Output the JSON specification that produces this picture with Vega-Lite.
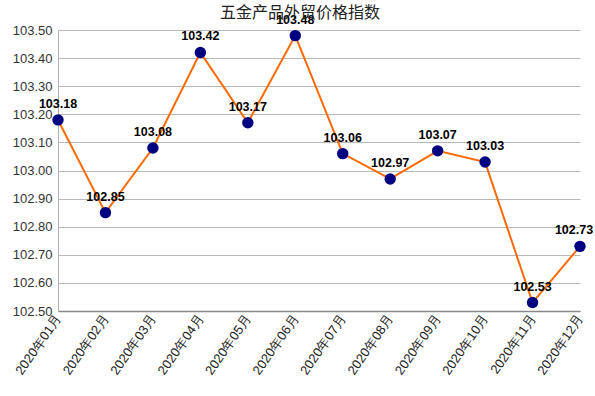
{
  "$schema": "https://vega.github.io/schema/vega-lite/v6.json",
  "width": 522,
  "height": 281,
  "autosize": {"type": "none"},
  "padding": {"left": 58, "top": 30, "right": 15, "bottom": 85},
  "background": "white",
  "title": {
    "text": "五金产品外贸价格指数",
    "font": "Noto Sans CJK SC",
    "fontSize": 16,
    "fontWeight": "normal",
    "color": "#222222",
    "anchor": "middle",
    "dx": -19,
    "offset": -7
  },
  "data": {
    "values": [
      {"month": "2020年01月", "value": 103.18},
      {"month": "2020年02月", "value": 102.85},
      {"month": "2020年03月", "value": 103.08},
      {"month": "2020年04月", "value": 103.42},
      {"month": "2020年05月", "value": 103.17},
      {"month": "2020年06月", "value": 103.48},
      {"month": "2020年07月", "value": 103.06},
      {"month": "2020年08月", "value": 102.97},
      {"month": "2020年09月", "value": 103.07},
      {"month": "2020年10月", "value": 103.03},
      {"month": "2020年11月", "value": 102.53},
      {"month": "2020年12月", "value": 102.73}
    ]
  },
  "encoding": {
    "x": {
      "field": "month",
      "type": "ordinal",
      "sort": null,
      "scale": {"type": "point", "padding": 0},
      "axis": {
        "title": null,
        "labelAngle": -55,
        "labelFont": "Liberation Sans",
        "labelFontSize": 13,
        "labelColor": "#222222",
        "labelPadding": 5,
        "ticks": false,
        "domainColor": "#888888",
        "domainWidth": 1.5,
        "grid": false
      }
    },
    "y": {
      "field": "value",
      "type": "quantitative",
      "scale": {"domain": [102.5, 103.5], "zero": false, "nice": false},
      "axis": {
        "title": null,
        "values": [102.5, 102.6, 102.7, 102.8, 102.9, 103.0, 103.1, 103.2, 103.3, 103.4, 103.5],
        "format": ".2f",
        "labelFont": "Liberation Sans",
        "labelFontSize": 13,
        "labelColor": "#333333",
        "labelPadding": 6,
        "ticks": false,
        "domainColor": "#b0b0b0",
        "gridColor": "#b8b8b8",
        "gridWidth": 1
      }
    }
  },
  "layer": [
    {"mark": {"type": "line", "color": "#FF6A00", "strokeWidth": 2}},
    {"mark": {"type": "point", "filled": true, "color": "#000080", "size": 130, "opacity": 1}},
    {
      "transform": [{"filter": "datum.month != '2020年12月'"}],
      "mark": {"type": "text", "dy": -16, "font": "Liberation Sans", "fontSize": 12.5, "fontWeight": "bold", "color": "#000000"},
      "encoding": {"text": {"field": "value", "type": "quantitative", "format": ".2f"}}
    },
    {
      "transform": [{"filter": "datum.month == '2020年12月'"}],
      "mark": {"type": "text", "dy": -16, "dx": -6, "font": "Liberation Sans", "fontSize": 12.5, "fontWeight": "bold", "color": "#000000"},
      "encoding": {"text": {"field": "value", "type": "quantitative", "format": ".2f"}}
    }
  ],
  "config": {"view": {"stroke": null}}
}
